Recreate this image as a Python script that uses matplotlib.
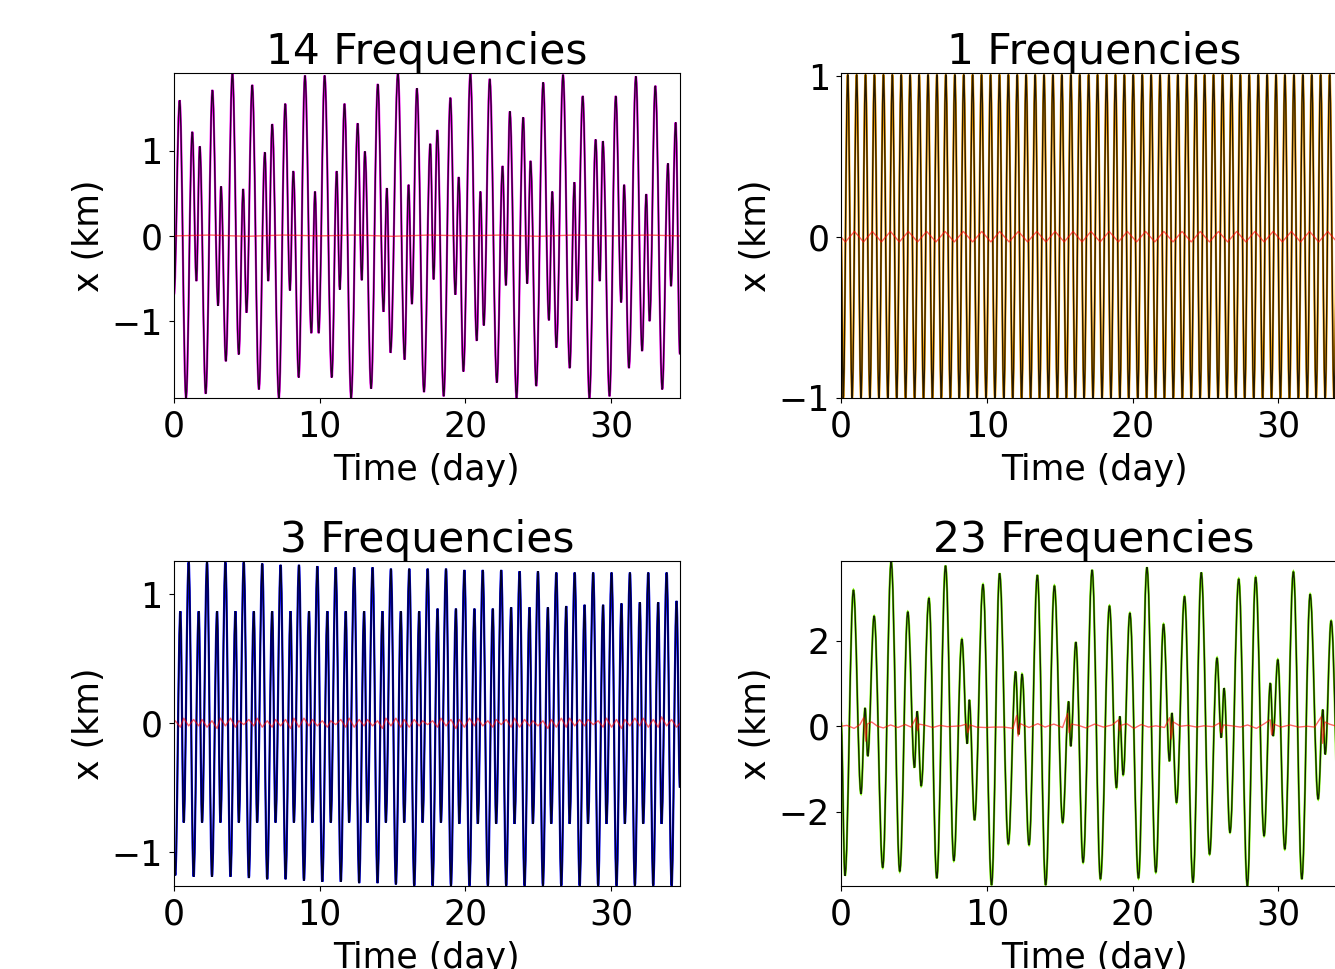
import numpy as np
import matplotlib
matplotlib.use("Agg")
import matplotlib.pyplot as plt
from matplotlib.path import Path
from matplotlib.patches import PathPatch

# ---- 14 Frequencies (turning points) ----
tl_t = [0.00, 0.39, 0.83, 1.26, 1.54, 1.77, 2.18, 2.64, 3.03, 3.23, 3.56, 4.01, 4.45, 4.75,
        4.98, 5.37, 5.83, 6.24, 6.47, 6.74, 7.20, 7.64, 7.96, 8.19, 8.56, 8.99, 9.43, 9.68,
        9.93, 10.34, 10.83, 11.17, 11.38, 11.70, 12.16, 12.61, 12.89, 13.10, 13.53, 13.99,
        14.38, 14.61, 14.86, 15.37, 15.83, 16.10, 16.33, 16.67, 17.16, 17.59, 17.82, 18.07,
        18.51, 18.97, 19.31, 19.54, 19.86, 20.34, 20.78, 21.03, 21.26, 21.67, 22.16, 22.55,
        22.78, 23.05, 23.51, 23.97, 24.24, 24.47, 24.86, 25.34, 25.73, 25.96, 26.24, 26.70,
        27.16, 27.48, 27.66, 28.05, 28.51, 28.94, 29.22, 29.43, 29.89, 30.32, 30.69, 30.89,
        31.22, 31.70, 32.13, 32.41, 32.64, 33.03, 33.51, 33.90, 34.11, 34.43, 34.72]
tl_x = [-0.69, 1.59, -1.90, 1.22, -0.53, 1.05, -1.85, 1.71, -0.82, 0.58, -1.47, 1.91, -1.39, 0.55,
        -0.90, 1.77, -1.80, 0.98, -0.53, 1.31, -1.90, 1.55, -0.64, 0.76, -1.66, 1.88, -1.14, 0.52,
        -1.14, 1.88, -1.66, 0.76, -0.63, 1.55, -1.90, 1.32, -0.52, 0.99, -1.79, 1.78,
        -0.89, 0.56, -1.37, 1.91, -1.45, 0.60, -0.80, 1.73, -1.83, 1.08, -0.51, 1.24,
        -1.88, 1.62, -0.69, 0.69, -1.59, 1.90, -1.23, 0.52, -1.05, 1.84, -1.72, 0.82,
        -0.58, 1.46, -1.90, 1.39, -0.56, 0.88, -1.76, 1.80, -0.99, 0.52, -1.31, 1.89,
        -1.55, 0.63, -0.76, 1.64, -1.90, 1.13, -0.53, 1.11, -1.88, 1.64, -0.78, 0.60,
        -1.55, 1.87, -1.35, 0.49, -1.00, 1.76, -1.80, 0.85, -0.59, 1.33, -1.39]
tl_res_t = [0.0, 2.5, 5.0, 7.5, 10.0, 12.5, 15.0, 17.5, 20.0, 22.5, 25.0, 27.5, 30.0, 32.5, 34.72]
tl_res_x = [0.0, 0.01, -0.005, 0.01, 0.0, 0.01, -0.005, 0.01, 0.0, 0.01, -0.005, 0.01, 0.0, 0.01, 0.0]

# ---- 1 Frequencies ----
tr_peak_t = [0.46, 1.07, 1.68, 2.29, 2.91, 3.52, 4.13, 4.74, 5.36, 5.97, 6.58, 7.19, 7.81, 8.42,
             9.03, 9.64, 10.26, 10.87, 11.48, 12.09, 12.70, 13.32, 13.93, 14.54, 15.15, 15.77,
             16.38, 16.99, 17.60, 18.22, 18.83, 19.44, 20.05, 20.67, 21.28, 21.89, 22.50, 23.11,
             23.73, 24.34, 24.95, 25.56, 26.18, 26.79, 27.40, 28.01, 28.63, 29.24, 29.85, 30.46,
             31.08, 31.69, 32.30, 32.91, 33.53, 34.14, 34.75]
tr_trough_t = [0.15, 0.76, 1.37, 1.98, 2.60, 3.21, 3.82, 4.43, 5.05, 5.66, 6.27, 6.88, 7.50, 8.11,
               8.72, 9.33, 9.95, 10.56, 11.17, 11.78, 12.39, 13.01, 13.62, 14.23, 14.84, 15.46,
               16.07, 16.68, 17.29, 17.91, 18.52, 19.13, 19.74, 20.36, 20.97, 21.58, 22.19, 22.80,
               23.42, 24.03, 24.64, 25.25, 25.87, 26.48, 27.09, 27.70, 28.32, 28.93, 29.54, 30.15,
               30.77, 31.38, 31.99, 32.60, 33.22, 33.83, 34.44]
tr_peak_x = 1.01
tr_trough_x = -1.0
tr_res_peak_t = [0.92, 2.15, 3.39, 4.62, 5.88, 7.14, 8.39, 9.66, 10.89, 12.17, 13.43, 14.69, 15.92,
                 17.15, 18.40, 19.65, 20.90, 22.15, 23.40, 24.65, 25.90, 27.15, 28.40, 29.65,
                 30.90, 32.15, 33.40, 34.65]
tr_res_trough_t = [0.30, 1.54, 2.77, 4.00, 5.25, 6.51, 7.77, 9.03, 10.28, 11.53, 12.80, 14.06,
                   15.31, 16.54, 17.78, 19.03, 20.28, 21.53, 22.78, 24.03, 25.28, 26.53, 27.78,
                   29.03, 30.28, 31.53, 32.78, 34.03]
tr_res_peak_x = 0.035
tr_res_trough_x = -0.03

# ---- 3 Frequencies ----
bl_tall_t = [1.01, 2.27, 3.53, 4.79, 6.06, 7.32, 8.58, 9.84, 11.10, 12.37, 13.63, 14.89, 16.15,
             17.41, 18.67, 19.93, 21.19, 22.46, 23.72, 24.98, 26.24, 27.50, 28.77, 30.03, 31.29,
             32.55, 33.81]
bl_tall_x = [1.25, 1.25, 1.25, 1.25, 1.24, 1.23, 1.23, 1.22, 1.21, 1.21, 1.21, 1.20, 1.20, 1.20,
             1.20, 1.19, 1.19, 1.19, 1.18, 1.18, 1.17, 1.17, 1.17, 1.17, 1.17, 1.17, 1.17]
bl_short_t = [0.44, 1.70, 2.96, 4.22, 5.48, 6.74, 8.00, 9.27, 10.53, 11.79, 13.05, 14.31, 15.57,
              16.83, 18.09, 19.35, 20.62, 21.88, 23.14, 24.40, 25.66, 26.92, 28.18, 29.45, 30.71,
              31.97, 33.23, 34.49]
bl_short_x = [0.87, 0.87, 0.87, 0.87, 0.87, 0.87, 0.87, 0.87, 0.87, 0.87, 0.87, 0.87, 0.87, 0.87,
              0.89, 0.89, 0.89, 0.89, 0.90, 0.90, 0.90, 0.91, 0.92, 0.92, 0.93, 0.94, 0.94, 0.95]
bl_shallow_t = [0.67, 1.93, 3.19, 4.45, 5.71, 6.97, 8.23, 9.50, 10.76, 12.02, 13.28, 14.54, 15.80,
                17.06, 18.32, 19.58, 20.85, 22.11, 23.37, 24.63, 25.89, 27.15, 28.41, 29.68,
                30.94, 32.20, 33.46]
bl_shallow_x = [-0.77, -0.77, -0.77, -0.77, -0.77, -0.77, -0.77, -0.77, -0.77, -0.77, -0.77,
                -0.77, -0.77, -0.77, -0.77, -0.78, -0.78, -0.78, -0.78, -0.78, -0.78, -0.78,
                -0.78, -0.78, -0.78, -0.78, -0.78]
bl_deep_t = [0.09, 1.35, 2.61, 3.88, 5.14, 6.40, 7.66, 8.92, 10.18, 11.45, 12.71, 13.97, 15.23,
             16.49, 17.75, 19.01, 20.28, 21.54, 22.80, 24.06, 25.32, 26.58, 27.84, 29.11, 30.37,
             31.63, 32.89, 34.15]
bl_deep_x = [-1.18, -1.19, -1.19, -1.19, -1.20, -1.21, -1.21, -1.22, -1.23, -1.23, -1.24, -1.24,
             -1.25, -1.26, -1.26, -1.26, -1.26, -1.26, -1.26, -1.26, -1.26, -1.26, -1.26, -1.26,
             -1.26, -1.26, -1.26, -1.26]
bl_ends_t = [0.0, 34.72]
bl_ends_x = [-1.0, -0.50]
# residual sampled at the same turning points
bl_res_tall = [-0.02, -0.03, -0.02, -0.01, -0.03, -0.02, -0.03, -0.02, -0.01, -0.03, -0.02, -0.02,
               -0.03, -0.01, -0.02, -0.03, -0.02, -0.01, -0.03, -0.02, -0.03, -0.02, -0.01, -0.03,
               -0.02, -0.03, -0.02]
bl_res_short = [-0.03, -0.02, -0.04, -0.03, -0.02, -0.03, -0.04, -0.02, -0.03, -0.03, -0.02,
                -0.04, -0.03, -0.02, -0.03, -0.04, -0.02, -0.03, -0.03, -0.02, -0.04, -0.03,
                -0.02, -0.03, -0.04, -0.02, -0.03, -0.03]
bl_res_shallow = [0.04, 0.03, 0.04, 0.02, 0.04, 0.03, 0.04, 0.03, 0.02, 0.04, 0.03, 0.04, 0.03,
                  0.02, 0.04, 0.03, 0.04, 0.03, 0.04, 0.02, 0.03, 0.04, 0.03, 0.04, 0.03, 0.04,
                  0.05]
bl_res_deep = [0.02, 0.03, 0.02, 0.04, 0.03, 0.02, 0.03, 0.04, 0.02, 0.03, 0.03, 0.02, 0.04, 0.03,
               0.02, 0.03, 0.04, 0.02, 0.03, 0.03, 0.02, 0.04, 0.03, 0.02, 0.03, 0.04, 0.03, 0.03]

# ---- 23 Frequencies ----
br_t = [0.00, 0.27, 0.85, 1.37, 1.65, 1.83, 2.27, 2.86, 3.44, 4.03, 4.58, 5.04, 5.22, 5.50, 6.03,
        6.57, 7.17, 7.74, 8.29, 8.66, 8.80, 9.16, 9.74, 10.33, 10.88, 11.48, 11.98, 12.19, 12.42,
        12.90, 13.47, 14.04, 14.64, 15.21, 15.62, 15.76, 16.11, 16.61, 17.23, 17.80, 18.42,
        18.90, 19.13, 19.36, 19.82, 20.41, 20.99, 21.60, 22.13, 22.54, 22.70, 23.02, 23.57,
        24.15, 24.72, 25.29, 25.80, 26.09, 26.28, 26.69, 27.29, 27.88, 28.45, 29.03, 29.46,
        29.65, 29.97, 30.45, 31.04, 31.62, 32.19, 32.74, 33.06, 33.22, 33.63, 34.25]
br_x = [0.10, -3.50, 3.19, -1.58, 0.43, -0.70, 2.58, -3.31, 3.85, -3.40, 2.68, -0.97, 0.35, -1.40,
        3.00, -3.56, 3.76, -3.15, 2.04, -0.41, 0.62, -2.20, 3.32, -3.72, 3.58, -2.76, 1.28, -0.19,
        1.22, -2.78, 3.54, -3.72, 3.29, -2.26, 0.58, -0.47, 1.97, -3.19, 3.66, -3.58, 2.82,
        -1.44, 0.23, -1.14, 2.65, -3.56, 3.72, -3.42, 2.39, -0.82, 0.31, -1.79, 3.04,
        -3.66, 3.60, -3.00, 1.60, -0.27, 0.89, -2.49, 3.45, -3.74, 3.49, -2.57, 1.01,
        -0.23, 1.56, -2.88, 3.62, -3.58, 3.09, -1.71, 0.39, -0.66, 2.47, -3.20]
br_res_t = [0.0, 0.4, 0.9, 1.3, 1.55, 1.62, 1.7, 1.8, 2.1, 2.5, 2.9, 3.4, 3.9, 4.4, 4.8, 5.15,
            5.25, 5.35, 5.8, 6.3, 6.8, 7.3, 7.8, 8.2, 8.6, 8.7, 8.85, 9.3, 9.9, 10.5, 11.2, 11.8,
            12.05, 12.15, 12.3, 12.9, 13.5, 14.0, 14.6, 15.2, 15.55, 15.65, 15.8, 16.3, 16.8,
            17.4, 18.0, 18.6, 19.05, 19.12, 19.2, 19.6, 20.1, 20.6, 21.1, 21.6, 22.2, 22.55,
            22.65, 22.8, 23.3, 23.8, 24.4, 24.9, 25.5, 26.0, 26.1, 26.25, 26.8, 27.4, 27.9, 28.5,
            29.0, 29.45, 29.55, 29.7, 30.2, 30.8, 31.4, 32.0, 32.5, 32.95, 33.05, 33.2, 33.5,
            34.0, 34.7]
br_res_x = [0.0, 0.02, -0.05, 0.04, 0.20, 0.0, -0.35, 0.05, 0.10, 0.0, -0.04, 0.03, -0.03, 0.04,
            -0.02, 0.20, -0.10, 0.05, 0.02, -0.03, 0.02, -0.01, 0.0, 0.01, 0.05, -0.15, 0.03,
            -0.02, -0.03, -0.02, -0.02, -0.05, 0.25, -0.23, 0.06, -0.03, 0.06, -0.02, 0.05, -0.03,
            0.30, -0.15, 0.05, 0.02, -0.04, 0.05, -0.02, 0.03, 0.15, -0.10, 0.02, 0.06, -0.05,
            0.04, -0.02, 0.01, -0.03, 0.20, -0.30, 0.10, 0.0, 0.02, -0.02, 0.01, -0.01, 0.08,
            -0.15, 0.03, 0.01, -0.02, 0.03, -0.05, 0.05, 0.15, -0.20, 0.05, -0.02, 0.03, -0.02,
            0.0, -0.02, 0.22, -0.40, 0.10, 0.05, 0.0, 0.02]


def merge(*pairs):
    t = np.concatenate([np.atleast_1d(np.asarray(p[0], float)) for p in pairs])
    x = np.concatenate([np.broadcast_to(np.asarray(p[1], float), np.shape(p[0])) for p in pairs])
    order = np.argsort(t)
    return t[order], x[order]


def wave_path(t, x, d=0.3634):
    # cubic bezier between turning points, flat tangent at each extremum
    verts = [(t[0], x[0])]
    codes = [Path.MOVETO]
    for i in range(len(t) - 1):
        dt = t[i + 1] - t[i]
        verts += [(t[i] + d * dt, x[i]), (t[i + 1] - d * dt, x[i + 1]), (t[i + 1], x[i + 1])]
        codes += [Path.CURVE4] * 3
    return Path(verts, codes)


tr_t, tr_x = merge(([0.0], [0.0]), (tr_peak_t, tr_peak_x), (tr_trough_t, tr_trough_x))
tr_res_t, tr_res_x = merge(([0.0], [0.0]), (tr_res_peak_t, tr_res_peak_x),
                           (tr_res_trough_t, tr_res_trough_x))
bl_t, bl_x = merge((bl_ends_t, bl_ends_x), (bl_tall_t, bl_tall_x), (bl_short_t, bl_short_x),
                   (bl_shallow_t, bl_shallow_x), (bl_deep_t, bl_deep_x))
bl_res_t, bl_res_x = merge((bl_ends_t, [0.0, 0.0]), (bl_tall_t, bl_res_tall),
                           (bl_short_t, bl_res_short), (bl_shallow_t, bl_res_shallow),
                           (bl_deep_t, bl_res_deep))

plt.rcParams['font.family'] = 'DejaVu Sans'
fig = plt.figure(figsize=(13.35, 9.69), dpi=100)

panels = [
    ("14 Frequencies", [0.1303, 0.5893, 0.379, 0.3354], tl_t, tl_x, tl_res_t, tl_res_x,
     'magenta', (-1.90, 1.91), [-1, 0, 1]),
    ("1 Frequencies", [0.6300, 0.5893, 0.379, 0.3354], tr_t, tr_x, tr_res_t, tr_res_x,
     'orange', (-1.0, 1.02), [-1, 0, 1]),
    ("3 Frequencies", [0.1303, 0.0857, 0.379, 0.3354], bl_t, bl_x, bl_res_t, bl_res_x,
     'blue', (-1.262, 1.26), [-1, 0, 1]),
    ("23 Frequencies", [0.6300, 0.0857, 0.379, 0.3354], br_t, br_x, br_res_t, br_res_x,
     'lawngreen', (-3.74, 3.87), [-2, 0, 2]),
]

for title, pos, t, x, rt, rx, color, ylim, yticks in panels:
    ax = fig.add_axes(pos)
    path = wave_path(t, x)
    ax.add_patch(PathPatch(path, facecolor='none', edgecolor=color, lw=1.6))
    ax.add_patch(PathPatch(path, facecolor='none', edgecolor='black', lw=1.0, alpha=0.85))
    ax.plot(rt, rx, color='red', lw=1.0, alpha=0.6)
    ax.set_xlim(0, 34.72)
    ax.set_ylim(*ylim)
    ax.set_xticks([0, 10, 20, 30])
    ax.set_yticks(yticks)
    ax.tick_params(labelsize=25, pad=4.5)
    ax.set_xlabel('Time (day)', fontsize=25, labelpad=7)
    ax.set_ylabel('x (km)', fontsize=25)
    ax.set_title(title, fontsize=30.5, pad=6)

fig.savefig('out.png', dpi=100)
